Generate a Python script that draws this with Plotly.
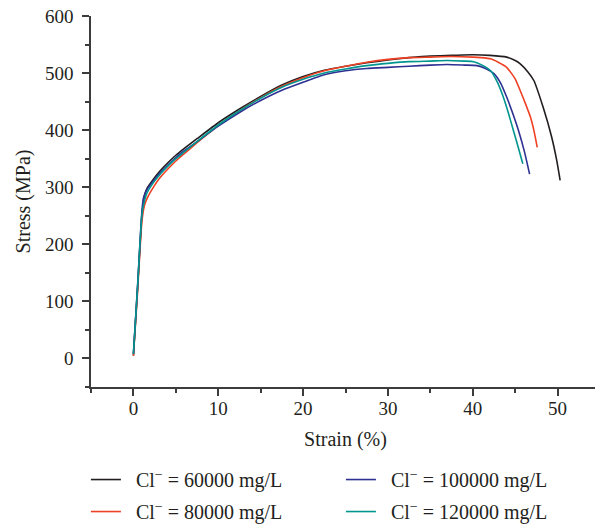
import plotly.graph_objects as go

# Strain (%) / stress (MPa)
strain_60k = [0, 0.5, 1.0, 1.3, 1.6, 2.4, 3.1, 4, 5, 6, 7.5, 10, 12.5, 15, 17.5, 20, 22.5, 25, 27.5,
              30, 32.5, 35, 37.5, 40, 42, 44, 45, 45.6, 46.5, 47.2, 48.3, 49.3, 49.9, 50.3]
stress_60k = [5, 125, 250, 285, 298, 315, 328, 342, 356, 368, 385, 413, 437, 459, 479, 494, 505, 512, 518,
              523, 527, 530, 531, 532, 531, 528, 522, 516, 502, 487, 440, 388, 347, 312]

strain_80k = [0, 0.5, 1.0, 1.3, 1.6, 2.4, 3.1, 4, 5, 6, 7.5, 10, 12.5, 15, 17.5, 20, 22.5, 25, 27.5,
              30, 32.5, 35, 37.5, 40, 41, 42.1, 43, 44, 45, 45.6, 46.2, 46.8, 47.2, 47.6]
stress_80k = [5, 120, 240, 268, 280, 301, 316, 331, 346, 359, 378, 408, 434, 457, 477, 492, 504, 512, 519,
              524, 527, 528, 529, 528, 527, 525, 519, 510, 490, 469, 447, 423, 400, 370]

strain_100k = [0, 0.5, 1.0, 1.2, 1.6, 2.4, 3.1, 4, 5, 6, 7.5, 10, 12.5, 15, 17.5, 20, 22.5, 25, 27.5,
               30, 32.5, 35, 37, 39, 40.5, 41.5, 42.5, 43.3, 44, 44.7, 45.4, 46.1, 46.7]
stress_100k = [8, 130, 258, 282, 296, 312, 325, 338, 352, 364, 380, 407, 431, 452, 470, 484, 497, 504, 508,
               510, 512, 514, 515, 514, 513, 508, 499, 482, 458, 430, 399, 362, 323]

strain_120k = [0, 0.5, 1.0, 1.3, 1.6, 2.4, 3.1, 4, 5, 6, 7.5, 10, 12.5, 15, 17.5, 20, 22.5, 25, 27.5,
               30, 32.5, 35, 37, 39, 40.1, 41.1, 42.1, 42.9, 43.6, 44.2, 44.8, 45.4, 45.9]
stress_120k = [8, 128, 252, 276, 290, 309, 322, 336, 350, 362, 380, 409, 434, 456, 475, 489, 500, 507, 513,
               517, 520, 521, 522, 521, 520, 514, 504, 484, 458, 430, 399, 368, 341]

labels = ["Cl<sup>−</sup> = 60000 mg/L", "Cl<sup>−</sup> = 80000 mg/L",
          "Cl<sup>−</sup> = 100000 mg/L", "Cl<sup>−</sup> = 120000 mg/L"]

FONT = "Liberation Serif, DejaVu Serif, serif"
TXT = "#231f20"
AXC = "#3c3c3c"
PAD = "\u00a0\u00a0"

series = [
    (strain_60k, stress_60k, labels[0], "#231f20", "legend"),
    (strain_80k, stress_80k, labels[1], "#ee4023", "legend"),
    (strain_100k, stress_100k, labels[2], "#2e3192", "legend2"),
    (strain_120k, stress_120k, labels[3], "#00968f", "legend2"),
]

fig = go.Figure()
for x, y, name, color, leg in series:
    fig.add_trace(go.Scatter(
        x=x, y=y, name=PAD + name, mode="lines",
        line=dict(color=color, width=1.6, shape="spline", smoothing=0.5),
        legend=leg, legendgroup=name,
    ))

axis_common = dict(
    showline=True, linecolor=AXC, linewidth=1.5,
    ticks="outside", ticklen=7, tickwidth=1.5, tickcolor=AXC,
    showgrid=False, zeroline=False, mirror=False, automargin=False,
    ticklabeloverflow="allow",
    tickfont=dict(family=FONT, size=19, color=TXT),
)

legend_common = dict(
    yref="container", y=0.129, xanchor="left", yanchor="top", orientation="v",
    bgcolor="rgba(0,0,0,0)", font=dict(family=FONT, size=20, color=TXT),
    tracegroupgap=3, itemwidth=30,
)

# the page body adds 8 px of offset, so the figure is 8 px smaller than the window
fig.update_layout(
    width=595, height=519,
    margin=dict(l=83, r=3, t=8, b=140),
    plot_bgcolor="white", paper_bgcolor="white",
    font=dict(family=FONT, size=20, color=TXT),
    xaxis=dict(range=[-5, 55], dtick=10, tick0=0, ticklabelstandoff=-4,
               title=dict(text="Strain (%)", standoff=14,
                          font=dict(family=FONT, size=20, color=TXT)),
               minor=dict(ticks="outside", ticklen=4, tickwidth=1.5, tickcolor=AXC, dtick=5, tick0=0),
               **axis_common),
    yaxis=dict(range=[-50, 600], dtick=100, tick0=0, ticklabelstandoff=5,
               title=dict(text="Stress (MPa)", standoff=9,
                          font=dict(family=FONT, size=20, color=TXT)),
               minor=dict(ticks="outside", ticklen=4, tickwidth=1.5, tickcolor=AXC, dtick=50, tick0=0),
               **axis_common),
    legend=dict(x=-0.01, **legend_common),
    legend2=dict(x=0.491, **legend_common),
)

fig.write_html("out.html")
